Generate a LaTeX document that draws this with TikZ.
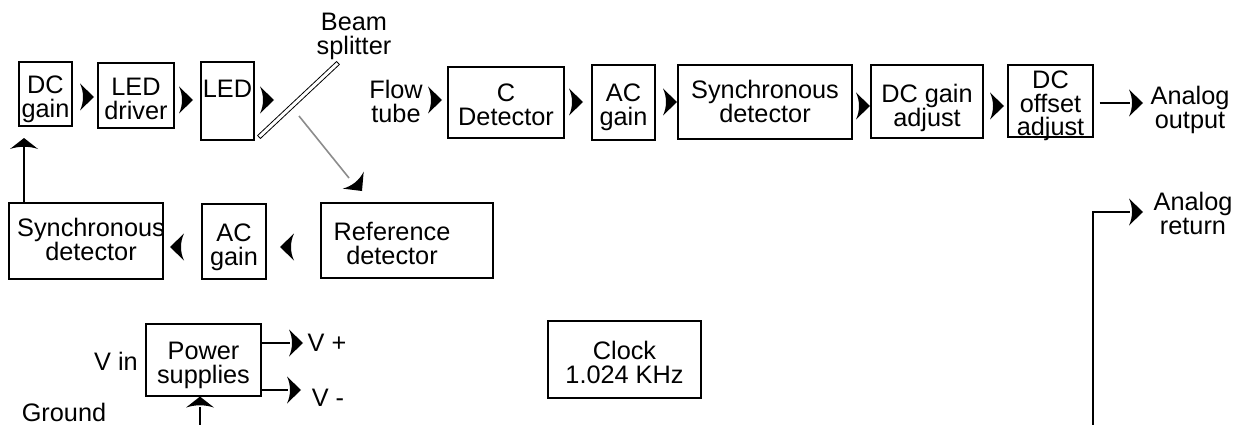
\documentclass[tikz,border=0pt]{standalone}
\usepackage{fontspec}
\setmainfont{Liberation Sans}
\begin{document}
\begin{tikzpicture}[x=1pt,y=-1pt,
  font=\fontsize{25.3}{24}\selectfont,
  box/.style={draw, line width=1.1pt, inner sep=0pt, align=center},
  txt/.style={inner sep=0pt, align=center},
  conn/.style={line width=1.1pt},
  ahd/.pic={\fill (0,0) -- (-14,-13.5) .. controls (-10,-5) and (-10,5) .. (-14,13.5) -- cycle;},
  ahdw/.pic={\fill (0,0) -- (-11,-14) .. controls (-8,-5) and (-8,5) .. (-11,14) -- cycle;}
]
\useasboundingbox (0,0) rectangle (1236,425);

% ---------- top row ----------
\node[box, minimum width=53pt, minimum height=64pt] (dcg) at (45.5,94) {};
\node[txt] (dcgt) at ([yshift=-5pt]dcg.center) {DC\\gain};
\node[box, minimum width=76pt, minimum height=65pt] (ledd) at (136,95.5) {};
\node[txt] (leddt) at ([yshift=-3pt]ledd.center) {LED\\driver};
\node[box, minimum width=53pt, minimum height=78pt] (led) at (227.5,101) {};
\node[txt] (ledt) at (227.5,89) {LED};

\pic at (94,97) {ahd};
\pic at (193,100) {ahd};
\pic at (274,100) {ahd};

% beam splitter
\draw[line width=0.8pt, fill=white] (257.6,135.5) -- (336.6,61.5) -- (339.4,64.5) -- (260.4,138.5) -- cycle;
\node[txt] (bst) at (354,36) {Beam\\splitter};
\coordinate (gs) at (299,116);
\coordinate (ge) at (349,178);
\draw[black!45, line width=1.6pt] (gs) -- (ge);
\pic[rotate=-51] at (362,191) {ahd};

\node[txt] (flow) at (396,101) {Flow\\tube};
\pic at (442,100) {ahd};
\node[box, minimum width=116pt, minimum height=71pt] (cdet) at (506,102.5) {};
\node[txt] (cdett) at ([yshift=-2pt]cdet.center) {C\\Detector};
\pic at (583,102) {ahd};
\node[box, minimum width=63pt, minimum height=75pt] (acg) at (623.5,102.5) {};
\node[txt] (acgt) at ([yshift=-5pt]acg.center) {AC\\gain};
\pic at (677,102) {ahd};
\node[box, minimum width=174pt, minimum height=74pt] (syn) at (765,102) {};
\node[txt] (synt) at ([yshift=1pt]syn.center) {Synchronous\\detector};
\pic at (870,106) {ahd};
\node[box, minimum width=112pt, minimum height=73pt] (dcga) at (927,101.5) {};
\node[txt] (dcgat) at ([yshift=-6pt]dcga.center) {DC gain\\adjust};
\pic at (1004,106) {ahd};
\node[box, minimum width=85pt, minimum height=72pt] (dcoa) at (1050.5,101) {};
\node[txt, font=\fontsize{25.3}{23.5}\selectfont] (dcoat) at (1050.5,106) {DC\\offset\\adjust};

\coordinate (ao) at (1130,103);
\draw[conn] (dcoa.east) ++(6,2) -- (ao);
\pic at (1143,103) {ahd};
\node[txt] (aout) at (1190,110) {Analog\\output};

\coordinate (rb) at (1093,425);
\coordinate (rt) at (1130,212);
\draw[conn] (rb) |- (rt);
\pic at (1143,212) {ahd};
\node[txt] (aret) at (1193,213) {Analog\\return};

% ---------- second row ----------
\node[box, minimum width=154pt, minimum height=76pt] (syn2) at (86,241) {};
\node[txt] (syn2t) at (91,239) {Synchronous\\detector};
\node[box, minimum width=64pt, minimum height=75pt] (acg2) at (234,241.5) {};
\node[txt] (acg2t) at ([yshift=-6pt]acg2.center) {AC\\gain};
\node[box, minimum width=172pt, minimum height=75pt] (refd) at (407,240.5) {};
\node[txt] (refdt) at (392,243) {Reference\\detector};
\pic[rotate=180] at (170,247) {ahd};
\pic[rotate=180] at (280,247) {ahd};

\coordinate (fb) at (24,147);
\draw[conn] (syn2.north -| fb) -- (fb);
\pic[rotate=90] at (24,138) {ahdw};

% ---------- third row ----------
\node[box, minimum width=115pt, minimum height=72pt] (ps) at (203.5,360) {};
\node[txt] (pst) at ([yshift=-5pt]ps.center) {Power\\supplies};
\node[txt] (vin) at (116,361) {V in};
\node[txt, anchor=base] (gnd) at (64,421) {Ground};

\coordinate (vp) at (290,343);
\draw[conn] (ps.east |- vp) -- (vp);
\pic at (303,343) {ahd};
\node[txt] (vpt) at (327,343) {V +};

\coordinate (vm) at (288,390);
\draw[conn] (ps.east |- vm) -- (vm);
\pic at (301,390) {ahd};
\node[txt] (vmt) at (328,398) {V -};

\coordinate (gb) at (200,425);
\coordinate (gt) at (200,407);
\draw[conn] (gb) -- (gt);
\pic[rotate=90] at (ps.south -| gb) {ahdw};

\node[box, minimum width=153pt, minimum height=77pt] (clk) at (624.5,359.5) {};
\node[txt] (clkt) at ([yshift=-3pt]clk.center) {Clock\\1.024 KHz};
\end{tikzpicture}
\end{document}
